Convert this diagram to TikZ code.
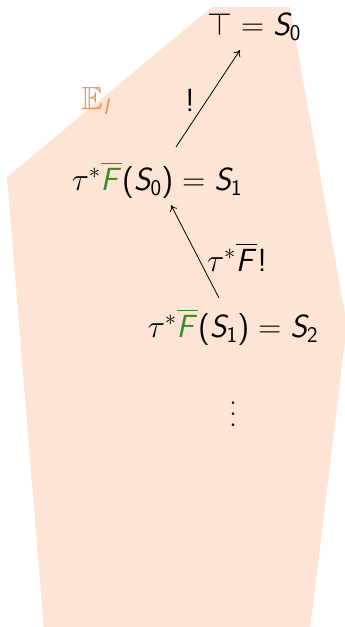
\RequirePackage{fix-cm}
\documentclass[tikz,border=0pt]{standalone}
\usepackage{amssymb}
\DeclareSymbolFont{sfitalic}{OT1}{cmss}{m}{sl}
\SetSymbolFont{operators}{normal}{OT1}{cmss}{m}{n}
\makeatletter
\@for\ltr:=A,B,C,D,E,F,G,H,I,J,K,L,M,N,O,P,Q,R,S,T,U,V,W,X,Y,Z\do{%
  \expandafter\DeclareMathSymbol\expandafter{\ltr}{\mathalpha}{sfitalic}{\expandafter`\ltr}}
\makeatother
\definecolor{peach}{RGB}{253,228,212}
\definecolor{eorange}{RGB}{245,140,80}
\definecolor{fgreen}{RGB}{56,140,40}
\newcommand{\Fb}{\textcolor{fgreen}{\overline{F}}}
\newcommand{\tallvdots}{\vbox{\baselineskip=11pt \lineskiplimit=0pt \hbox{.}\hbox{.}\hbox{.}}}
\usetikzlibrary{arrows.meta}
\tikzset{
  lbl/.style={font=\fontsize{32}{38}\selectfont, inner sep=2pt},
  arr/.style={->, line width=0.8pt, >={To[length=6pt,width=8pt]}},
}
\begin{document}
\begin{tikzpicture}[x=1pt,y=-1pt]
\useasboundingbox (0,0) rectangle (345,627);
\fill[peach] (212,7) -- (290,7) -- (347,325) -- (310,630) -- (44,630) -- (7,177) -- cycle;
\node[lbl] (s0) at (254,27) {$\top = S_0$};
\node[lbl] (s1) at (157,180) {$\tau^*\Fb(S_0) = S_1$};
\node[lbl] (s2) at (233,327) {$\tau^*\Fb(S_1) = S_2$};
\node[lbl, inner sep=0pt] (dots) at (233,414) {\tallvdots};
\node[lbl, text=eorange] (E) at (97,101) {$\mathbb{E}_I$};
\coordinate (a1s) at (176,147);
\coordinate (a1e) at (240,50);
\coordinate (a2s) at (219,298);
\coordinate (a2e) at (171,205);
\draw[arr] (a1s) -- (a1e);
\draw[arr] (a2s) -- (a2e);
\node[lbl] (l1) at (190,100) {$!$};
\node[lbl] (l2) at (237,257) {$\tau^*\overline{F}!$};
\end{tikzpicture}
\end{document}
